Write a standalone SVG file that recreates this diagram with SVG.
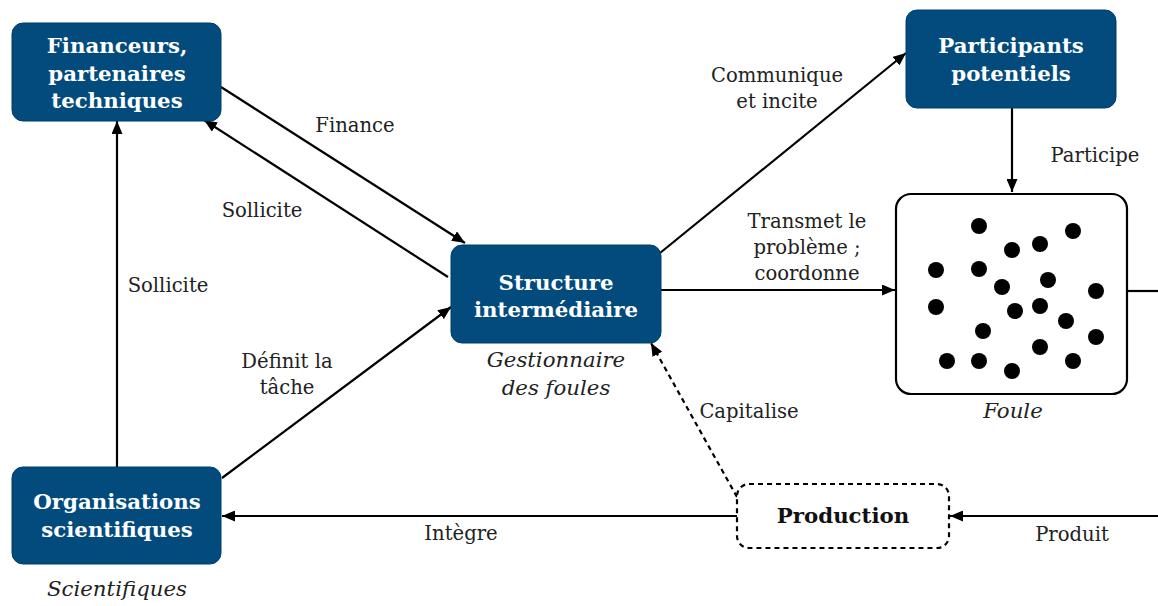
<svg xmlns="http://www.w3.org/2000/svg" width="1158" height="606" viewBox="0 0 1158 606">
<style>
.box{fill:#024b7c;stroke:#013e68;stroke-width:1}
.nt{font-family:"DejaVu Serif","Liberation Serif",serif;font-weight:bold;font-size:21.3px;fill:#fff;text-anchor:middle}
.lb{font-family:"DejaVu Serif","Liberation Serif",serif;font-size:19.6px;fill:#222;text-anchor:middle}
.it{font-family:"DejaVu Serif","Liberation Serif",serif;font-style:italic;font-size:21.3px;fill:#222;text-anchor:middle}
.ln{stroke:#000;stroke-width:2.2;fill:none}
.dash{stroke-dasharray:5 4}
</style>
<defs>
<marker id="ah" viewBox="0 0 13 11" refX="13" refY="5.5" markerWidth="13" markerHeight="11" markerUnits="userSpaceOnUse" orient="auto">
<path d="M0,0 L13,5.5 L0,11 Z" fill="#000"/>
</marker>
</defs>
<g id="connectors">
<line class="ln" x1="221" y1="87" x2="465" y2="243" marker-end="url(#ah)"/>
<line class="ln" x1="448" y1="277" x2="204" y2="120" marker-end="url(#ah)"/>
<line class="ln" x1="117" y1="467" x2="117" y2="121" marker-end="url(#ah)"/>
<line class="ln" x1="222" y1="478" x2="451" y2="307" marker-end="url(#ah)"/>
<line class="ln" x1="660" y1="253" x2="906" y2="53" marker-end="url(#ah)"/>
<line class="ln" x1="661" y1="290" x2="895" y2="290" marker-end="url(#ah)"/>
<line class="ln" x1="1012" y1="108" x2="1012" y2="192" marker-end="url(#ah)"/>
<line class="ln" x1="1127" y1="291" x2="1158" y2="291"/>
<line class="ln" x1="1158" y1="516" x2="950" y2="516" marker-end="url(#ah)"/>
<line class="ln" x1="737" y1="516" x2="222" y2="516" marker-end="url(#ah)"/>
<line class="ln dash" x1="737" y1="497" x2="651" y2="343" marker-end="url(#ah)"/>
<text class="lb" x="355" y="132">Finance</text>
<text class="lb" x="262" y="217">Sollicite</text>
<text class="lb" x="168" y="292">Sollicite</text>
<text class="lb" x="287" y="368">Définit la</text>
<text class="lb" x="287" y="394">tâche</text>
<text class="lb" x="777" y="82">Communique</text>
<text class="lb" x="777" y="108">et incite</text>
<text class="lb" x="807" y="228">Transmet le</text>
<text class="lb" x="807" y="254">problème ;</text>
<text class="lb" x="807" y="280">coordonne</text>
<text class="lb" x="1095" y="162">Participe</text>
<text class="lb" x="749" y="418">Capitalise</text>
<text class="lb" x="461" y="540">Intègre</text>
<text class="lb" x="1072" y="541">Produit</text>
</g>
<g id="financeurs">
<rect class="box" x="12" y="23" width="209" height="98" rx="11"/>
<text class="nt" x="117" y="53">Financeurs,</text>
<text class="nt" x="117" y="81">partenaires</text>
<text class="nt" x="117" y="108">techniques</text>
</g>
<g id="structure">
<rect class="box" x="451" y="245" width="210" height="98" rx="11"/>
<text class="nt" x="556" y="290">Structure</text>
<text class="nt" x="556" y="317">intermédiaire</text>
<text class="it" x="556" y="367">Gestionnaire</text>
<text class="it" x="556" y="395">des foules</text>
</g>
<g id="participants">
<rect class="box" x="906" y="10" width="210" height="98" rx="11"/>
<text class="nt" x="1011" y="53">Participants</text>
<text class="nt" x="1011" y="81">potentiels</text>
</g>
<g id="organisations">
<rect class="box" x="12" y="467" width="209" height="97" rx="11"/>
<text class="nt" x="117" y="509">Organisations</text>
<text class="nt" x="117" y="537">scientifiques</text>
<text class="it" x="117" y="596">Scientifiques</text>
</g>
<g id="foule">
<rect x="896" y="194" width="231" height="200" rx="15" fill="#fff" stroke="#000" stroke-width="2.2"/>
<g fill="#000">
<circle cx="979" cy="226" r="8"/><circle cx="1073" cy="231" r="8"/><circle cx="1012" cy="250" r="8"/><circle cx="1040" cy="244" r="8"/>
<circle cx="936" cy="270" r="8"/><circle cx="979" cy="269" r="8"/><circle cx="1002" cy="287" r="8"/><circle cx="1048" cy="280" r="8"/>
<circle cx="1096" cy="291" r="8"/><circle cx="936" cy="307" r="8"/><circle cx="1015" cy="311" r="8"/><circle cx="1040" cy="306" r="8"/>
<circle cx="1066" cy="321" r="8"/><circle cx="983" cy="331" r="8"/><circle cx="1096" cy="337" r="8"/><circle cx="1040" cy="347" r="8"/>
<circle cx="947" cy="361" r="8"/><circle cx="979" cy="361" r="8"/><circle cx="1073" cy="361" r="8"/><circle cx="1012" cy="371" r="8"/>
</g>
<text class="it" x="1013" y="418">Foule</text>
</g>
<g id="production">
<rect x="737" y="484" width="212" height="64" rx="12" fill="#fff" stroke="#000" stroke-width="2.2" stroke-dasharray="5 4"/>
<text x="843" y="523" font-family="DejaVu Serif, Liberation Serif, serif" font-weight="bold" font-size="21.3" fill="#111" text-anchor="middle">Production</text>
</g>
</svg>
